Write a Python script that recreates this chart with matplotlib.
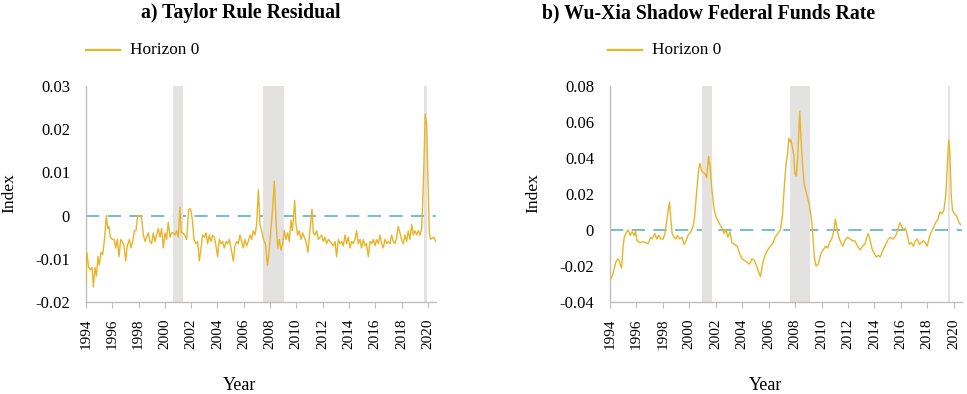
import numpy as np
import matplotlib.pyplot as plt

plt.rcParams['font.family'] = ['Liberation Serif', 'DejaVu Serif']

# panel a: Taylor rule residual (decimal year, value)
yr_a = [1994.0, 1994.06, 1994.2, 1994.35, 1994.46, 1994.56, 1994.68, 1994.79, 1994.91, 1995.01,
        1995.14, 1995.27, 1995.39, 1995.55, 1995.65, 1995.75, 1995.85, 1996.0, 1996.13, 1996.26,
        1996.38, 1996.51, 1996.64, 1996.76, 1996.89, 1997.02, 1997.14, 1997.3, 1997.42, 1997.55,
        1997.68, 1997.8, 1997.93, 1998.11, 1998.23, 1998.36, 1998.49, 1998.61, 1998.74, 1998.87,
        1998.99, 1999.12, 1999.25, 1999.37, 1999.5, 1999.63, 1999.75, 1999.88, 2000.01, 2000.13,
        2000.26, 2000.39, 2000.51, 2000.64, 2000.77, 2000.89, 2001.02, 2001.15, 2001.25, 2001.38,
        2001.5, 2001.66, 2001.81, 2001.96, 2002.09, 2002.21, 2002.37, 2002.49, 2002.62, 2002.75,
        2002.87, 2003.0, 2003.13, 2003.25, 2003.38, 2003.51, 2003.63, 2003.76, 2003.89, 2004.01,
        2004.14, 2004.27, 2004.39, 2004.52, 2004.65, 2004.77, 2004.9, 2005.03, 2005.2, 2005.33,
        2005.46, 2005.58, 2005.71, 2005.84, 2005.96, 2006.09, 2006.22, 2006.34, 2006.47, 2006.6,
        2006.72, 2006.85, 2006.98, 2007.11, 2007.23, 2007.36, 2007.49, 2007.64, 2007.81, 2007.94,
        2008.07, 2008.2, 2008.32, 2008.45, 2008.58, 2008.7, 2008.83, 2008.96, 2009.08, 2009.21,
        2009.34, 2009.46, 2009.59, 2009.69, 2009.77, 2009.87, 2009.97, 2010.1, 2010.22, 2010.35,
        2010.48, 2010.6, 2010.73, 2010.88, 2011.03, 2011.19, 2011.29, 2011.41, 2011.54, 2011.67,
        2011.79, 2011.92, 2012.05, 2012.17, 2012.3, 2012.43, 2012.56, 2012.68, 2012.81, 2012.94,
        2013.06, 2013.19, 2013.32, 2013.44, 2013.57, 2013.7, 2013.82, 2013.95, 2014.08, 2014.2,
        2014.33, 2014.46, 2014.58, 2014.71, 2014.84, 2014.96, 2015.09, 2015.22, 2015.34, 2015.47,
        2015.6, 2015.72, 2015.85, 2015.98, 2016.1, 2016.23, 2016.36, 2016.48, 2016.61, 2016.74,
        2016.86, 2016.99, 2017.12, 2017.24, 2017.37, 2017.5, 2017.63, 2017.75, 2017.88, 2018.0,
        2018.13, 2018.26, 2018.39, 2018.51, 2018.64, 2018.77, 2018.89, 2019.02, 2019.15, 2019.27,
        2019.4, 2019.53, 2019.6, 2019.7, 2019.8, 2019.91, 2020.01, 2020.11, 2020.21, 2020.34,
        2020.45, 2020.62]
val_a = [-0.016, -0.0085, -0.012, -0.0125, -0.012, -0.0165, -0.012, -0.014, -0.0095, -0.0115,
         -0.0085, -0.009, -0.006, 0.0, -0.003, -0.0025, -0.005, -0.0055, -0.0055, -0.0075,
         -0.0055, -0.0095, -0.0055, -0.006, -0.007, -0.0105, -0.007, -0.0055, -0.0075, -0.006,
         -0.0035, -0.0035, 0.0, 0.0, -0.0005, -0.0045, -0.006, -0.005, -0.004, -0.006,
         -0.0065, -0.004, -0.006, -0.0045, -0.003, -0.005, -0.003, -0.0075, -0.004, -0.0055,
         -0.0015, -0.005, -0.004, -0.004, -0.0045, -0.0035, -0.005, 0.002, -0.004, -0.004,
         -0.0045, -0.0055, 0.0015, 0.0015, -0.001, -0.0055, -0.0065, -0.006, -0.0105, -0.0075,
         -0.0045, -0.005, -0.004, -0.0065, -0.0045, -0.006, -0.0045, -0.005, -0.007, -0.0095,
         -0.0055, -0.0065, -0.006, -0.0075, -0.006, -0.0065, -0.0055, -0.0075, -0.0105, -0.007,
         -0.006, -0.0065, -0.0045, -0.006, -0.0075, -0.0055, -0.007, -0.006, -0.0045, -0.0055,
         -0.0035, -0.0045, -0.002, 0.006, -0.002, -0.0035, -0.0055, -0.0065, -0.0115, -0.008,
         -0.003, 0.002, 0.008, -0.001, -0.0075, -0.0055, -0.008, -0.0065, -0.0035, -0.0055,
         -0.004, -0.006, -0.001, -0.0035, -0.001, 0.0035, -0.002, -0.0045, -0.0035, -0.0055,
         -0.004, -0.005, -0.006, -0.0085, -0.0035, 0.0015, -0.004, -0.0045, -0.0035, -0.0055,
         -0.005, -0.0045, -0.006, -0.005, -0.0065, -0.0055, -0.006, -0.0065, -0.007, -0.006,
         -0.0095, -0.0055, -0.0065, -0.006, -0.007, -0.0045, -0.0065, -0.005, -0.0075, -0.006,
         -0.0065, -0.0055, -0.0035, -0.0065, -0.0055, -0.0075, -0.0055, -0.007, -0.0065, -0.0095,
         -0.006, -0.0065, -0.0055, -0.007, -0.0055, -0.0065, -0.0045, -0.0065, -0.0075, -0.0055,
         -0.0065, -0.006, -0.0065, -0.0045, -0.006, -0.0065, -0.005, -0.0025, -0.004, -0.0055,
         -0.0065, -0.0045, -0.006, -0.0035, -0.0055, -0.002, -0.0045, -0.0035, -0.0045, -0.0035,
         -0.0045, -0.003, 0.002, 0.012, 0.0235, 0.021, 0.008, -0.004, -0.0055, -0.0052,
         -0.005, -0.006]

# panel b: Wu-Xia shadow federal funds rate
yr_b = [1994.0, 1994.2, 1994.43, 1994.58, 1994.7, 1994.8, 1994.88, 1994.98, 1995.08, 1995.26,
        1995.38, 1995.53, 1995.68, 1995.83, 1995.93, 1996.04, 1996.26, 1996.49, 1996.69, 1996.89,
        1997.07, 1997.19, 1997.39, 1997.54, 1997.69, 1997.84, 1998.02, 1998.15, 1998.27, 1998.42,
        1998.5, 1998.6, 1998.7, 1998.85, 1998.97, 1999.1, 1999.28, 1999.45, 1999.6, 1999.75,
        1999.9, 2000.1, 2000.28, 2000.41, 2000.56, 2000.71, 2000.81, 2000.91, 2001.06, 2001.21,
        2001.31, 2001.46, 2001.59, 2001.71, 2001.86, 2002.02, 2002.17, 2002.32, 2002.47, 2002.62,
        2002.77, 2002.92, 2003.07, 2003.22, 2003.42, 2003.62, 2003.8, 2003.97, 2004.18, 2004.38,
        2004.55, 2004.73, 2004.93, 2005.13, 2005.38, 2005.56, 2005.73, 2005.93, 2006.14, 2006.34,
        2006.49, 2006.69, 2006.89, 2007.04, 2007.19, 2007.32, 2007.44, 2007.52, 2007.62, 2007.69,
        2007.82, 2007.89, 2007.99, 2008.09, 2008.19, 2008.35, 2008.45, 2008.57, 2008.7, 2008.8,
        2008.95, 2009.1, 2009.25, 2009.35, 2009.45, 2009.58, 2009.75, 2009.95, 2010.13, 2010.31,
        2010.46, 2010.61, 2010.76, 2010.91, 2011.04, 2011.16, 2011.31, 2011.46, 2011.61, 2011.76,
        2011.96, 2012.17, 2012.34, 2012.52, 2012.72, 2012.92, 2013.1, 2013.27, 2013.42, 2013.52,
        2013.65, 2013.8, 2013.97, 2014.13, 2014.28, 2014.43, 2014.6, 2014.78, 2014.98, 2015.18,
        2015.36, 2015.53, 2015.68, 2015.83, 2015.93, 2016.06, 2016.19, 2016.34, 2016.49, 2016.64,
        2016.79, 2016.94, 2017.09, 2017.24, 2017.39, 2017.54, 2017.69, 2017.84, 2017.99, 2018.15,
        2018.3, 2018.45, 2018.62, 2018.8, 2018.95, 2019.1, 2019.25, 2019.4, 2019.55, 2019.62,
        2019.7, 2019.8, 2019.9, 2020.05, 2020.2, 2020.35, 2020.5]
val_b = [-0.028, -0.025, -0.018, -0.016, -0.017, -0.02, -0.021, -0.01, -0.004, -0.001,
         0.0, -0.003, -0.001, -0.003, -0.0005, -0.006, -0.007, -0.0065, -0.007, -0.0075,
         -0.004, -0.005, -0.002, -0.005, -0.003, -0.005, -0.005, -0.002, 0.004, 0.012,
         0.0155, 0.006, -0.002, -0.004, -0.005, -0.003, -0.005, -0.004, -0.008, -0.006,
         -0.003, -0.001, 0.002, 0.008, 0.022, 0.034, 0.037, 0.033, 0.032, 0.031,
         0.029, 0.041, 0.034, 0.022, 0.012, 0.007, 0.005, 0.003, 0.001, -0.002,
         0.0, -0.004, -0.001, -0.007, -0.008, -0.009, -0.013, -0.016, -0.017, -0.018,
         -0.019, -0.016, -0.017, -0.021, -0.026, -0.018, -0.014, -0.011, -0.009, -0.007,
         -0.004, -0.002, 0.0, 0.008, 0.025, 0.037, 0.043, 0.051, 0.049, 0.05,
         0.045, 0.042, 0.031, 0.03, 0.04, 0.066, 0.05, 0.035, 0.025, 0.022,
         0.018, 0.013, 0.005, -0.004, -0.015, -0.02, -0.019, -0.013, -0.011, -0.009,
         -0.01, -0.007, -0.005, -0.001, 0.006, 0.001, -0.004, -0.007, -0.009, -0.006,
         -0.004, -0.005, -0.006, -0.006, -0.009, -0.011, -0.009, -0.008, -0.004, -0.002,
         -0.005, -0.01, -0.013, -0.015, -0.014, -0.015, -0.012, -0.009, -0.006, -0.004,
         -0.005, -0.004, -0.002, 0.002, 0.004, 0.002, 0.0, 0.001, -0.003, -0.008,
         -0.007, -0.009, -0.006, -0.005, -0.008, -0.007, -0.006, -0.007, -0.009, -0.004,
         -0.001, 0.001, 0.004, 0.006, 0.01, 0.009, 0.011, 0.02, 0.042, 0.05,
         0.044, 0.02, 0.011, 0.009, 0.008, 0.005, 0.003]

# recession bands (as placed on each panel)
rec_a = [(2000.62, 2001.38), (2007.46, 2009.06), (2019.7, 2019.95)]
rec_b = [(2000.93, 2001.69), (2007.58, 2009.09), (2019.55, 2019.75)]

titles = ['a) Taylor Rule Residual', 'b) Wu-Xia Shadow Federal Funds Rate']
yticks_a = [-0.02, -0.01, 0, 0.01, 0.02, 0.03]
yticks_b = [-0.04, -0.02, 0, 0.02, 0.04, 0.06, 0.08]
ylabels_a = ['-0.02', '-0.01', '0', '0.01', '0.02', '0.03']
ylabels_b = ['-0.04', '-0.02', '0', '0.02', '0.04', '0.06', '0.08']
years = list(range(1994, 2021, 2))

line_col = '#E8B528'
dash_col = '#5BB5C8'
shade_col = '#E4E1E1'
spine_col = '#BFBFBF'

W, H = 967, 394
fig = plt.figure(figsize=(W / 100, H / 100), dpi=100)

panels = [
    dict(rect=[86, 86, 350, 216], x=yr_a, y=val_a, rec=rec_a, yt=yticks_a, yl=ylabels_a,
         ylim=(-0.02, 0.03), title=titles[0], tx=241, lx=86, ylab_x=9, xlab_x=240),
    dict(rect=[610, 86, 352, 216], x=yr_b, y=val_b, rec=rec_b, yt=yticks_b, yl=ylabels_b,
         ylim=(-0.04, 0.08), title=titles[1], tx=709, lx=608, ylab_x=533, xlab_x=766),
]

for p in panels:
    l, t, w, h = p['rect']
    ax = fig.add_axes([l / W, 1 - (t + h) / H, w / W, h / H])
    ax.axhline(0, color=dash_col, lw=1.2, dashes=(8, 5), zorder=1)
    for a, b in p['rec']:
        ax.axvspan(a, b, color=shade_col, lw=0, zorder=2)
    ax.plot(p['x'], p['y'], color=line_col, lw=1.0, zorder=3)
    ax.set_xlim(1994, 2020.62)
    ax.set_ylim(*p['ylim'])
    ax.set_yticks(p['yt'])
    ax.set_yticklabels(p['yl'])
    ax.set_xticks(years)
    ax.set_xticklabels([str(y) for y in years], rotation=90)
    ax.tick_params(axis='y', length=0, pad=11.5, labelsize=12)
    ax.tick_params(axis='x', length=4, color=spine_col, pad=8, labelsize=11)
    for s in ['top', 'right']:
        ax.spines[s].set_visible(False)
    for s in ['left', 'bottom']:
        ax.spines[s].set_color(spine_col)
        ax.spines[s].set_linewidth(1.0)

    fig.text(p['tx'] / W, 1 - 13 / H, p['title'], ha='center', va='center',
             fontsize=14.2, fontweight='bold')
    lx = p['lx']
    fig.add_artist(plt.Line2D([lx / W, (lx + 34) / W], [1 - 50 / H] * 2,
                              color=line_col, lw=1.6))
    fig.text((lx + 44) / W, 1 - 50 / H, 'Horizon 0', ha='left', va='center', fontsize=12.4)
    fig.text(p['ylab_x'] / W, 1 - 193 / H, 'Index', rotation=90, ha='center',
             va='center', fontsize=12.5)
    fig.text(p['xlab_x'] / W, 1 - 385 / H, 'Year', ha='center', va='center', fontsize=13)

fig.savefig('out.png', dpi=100)
